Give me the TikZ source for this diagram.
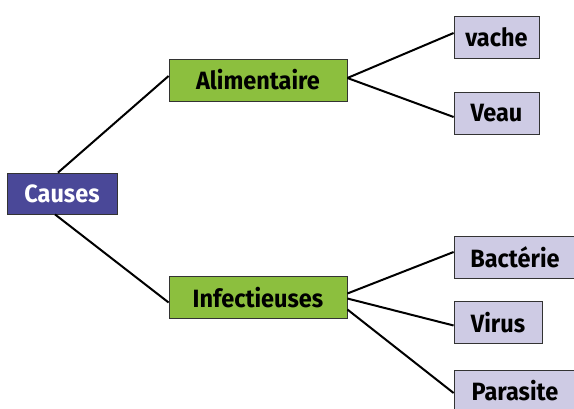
\documentclass[tikz,border=0pt]{standalone}
\usepackage{fontspec}
\setmainfont{Fira Sans}[FakeStretch=0.94]
\usepackage{tikz}
\usetikzlibrary{positioning, calc}

\definecolor{causeblue}{RGB}{74,72,152}
\definecolor{catgreen}{RGB}{140,191,62}
\definecolor{leaflilac}{RGB}{206,203,228}

\begin{document}
\begin{tikzpicture}[x=1pt, y=-1pt,
    box/.style={draw=black!80, line width=0.8pt, inner sep=0pt,
        font=\fontsize{25}{27}\selectfont\bfseries},
    root/.style={box, fill=causeblue, text=white, minimum width=110pt, minimum height=41pt},
    cat/.style={box, fill=catgreen, minimum width=178pt, minimum height=42pt},
    leaf/.style={box, fill=leaflilac, minimum height=42pt},
    link/.style={line width=2pt, black}]
    \useasboundingbox (0,0) rectangle (574,409);
    \clip (0,0) rectangle (574,409);

    % Root
    \node[root] (causes) at (62,193.5) {Causes};

    % Categories
    \node[cat] (alim) at (258,80) {Alimentaire};
    \node[cat] (infect) at (258,297.5) {Infectieuses};

    % Leaves
    \node[leaf, minimum width=85pt] (vache) at (496.5,37) {vache};
    \node[leaf, minimum width=85pt] (veau) at (496.5,113) {Veau};
    \node[leaf, minimum width=122pt] (bact) at (515,257) {Bactérie};
    \node[leaf, minimum width=88pt] (virus) at (498,322.5) {Virus};
    \node[leaf, minimum width=122pt] (paras) at (515,391) {Parasite};

    % Connectors
    \draw[link] ([xshift=-4pt]causes.north) -- ([yshift=4pt]alim.west);
    \draw[link] ([xshift=-7pt]causes.south) -- ([yshift=-5pt]infect.west);
    \draw[link] ([yshift=2pt]alim.east) -- ([yshift=4pt]vache.west);
    \draw[link] ([yshift=2pt]alim.east) -- ([yshift=-4pt]veau.west);
    \draw[link] ([yshift=4pt]infect.east) -- ([yshift=5pt]bact.west);
    \draw[link] ([yshift=-1pt]infect.east) -- ([yshift=-3pt]virus.west);
    \draw[link] ([yshift=-12pt]infect.east) -- ([yshift=-2pt]paras.west);
\end{tikzpicture}
\end{document}
